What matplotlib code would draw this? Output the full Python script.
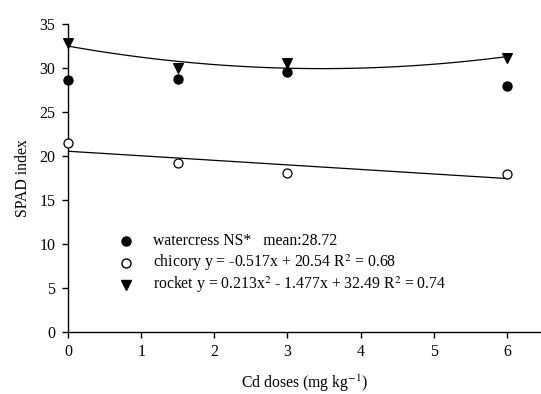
import numpy as np
import matplotlib
matplotlib.use("Agg")
import matplotlib.pyplot as plt

plt.rcParams['font.family'] = ['Liberation Serif', 'DejaVu Serif']
plt.rcParams['mathtext.fontset'] = 'stix'

# Cd doses (mg/kg)
doses = [0, 1.5, 3, 6]

# SPAD index readings
watercress = [28.6, 28.8, 29.6, 27.9]
chicory = [21.5, 19.2, 18.1, 17.9]
rocket = [32.8, 30.0, 30.6, 31.1]

# regression coefficients from the legend (highest power first)
chicory_fit = [-0.517, 20.54]
rocket_fit = [0.213, -1.477, 32.49]

legend_labels = [
    'watercress NS*   mean:28.72',
    'chicory y = -0.517x + 20.54 R$^2$ = 0.68',
    'rocket y = 0.213x$^2$ - 1.477x + 32.49 R$^2$ = 0.74',
]

fig = plt.figure(figsize=(5.41, 3.94), dpi=100)
ax = fig.add_axes([0.1257, 0.1574, 0.8743, 0.7817])

xs = np.linspace(0, 6, 100)
ax.plot(xs, np.polyval(chicory_fit, xs), color='black', lw=0.9)
ax.plot(xs, np.polyval(rocket_fit, xs), color='black', lw=0.9)

ax.scatter(doses, watercress, marker='o', s=42, color='black', zorder=3, clip_on=False)
ax.scatter(doses, chicory, marker='o', s=42, facecolor='white', edgecolor='black',
           linewidths=0.9, zorder=3, clip_on=False)
ax.scatter(doses, rocket, marker='v', s=48, color='black', zorder=3, clip_on=False)

ax.set_xlim(0, 6.465)
ax.set_ylim(0, 35)
ax.set_xticks(range(0, 7))
ax.set_yticks(range(0, 36, 5))
for side in ['top', 'right']:
    ax.spines[side].set_visible(False)
for side in ['left', 'bottom']:
    ax.spines[side].set_linewidth(1.0)
ax.tick_params(direction='out', length=4, width=1, labelsize=11.5, pad=5)

ax.set_xlabel('Cd doses (mg kg$^{-1}$)', fontsize=11.3, labelpad=9)
ax.set_ylabel('SPAD index', fontsize=11.3, labelpad=6)

# legend drawn by hand (markers + text, no frame)
styles = [
    dict(marker='o', color='black', markersize=6.5),
    dict(marker='o', markerfacecolor='white', markeredgecolor='black', markersize=6.5),
    dict(marker='v', color='black', markersize=7),
]
rows = [0.2955, 0.224, 0.1526]
for st, yy, lab in zip(styles, rows, legend_labels):
    ax.plot([0.1226], [yy], ls='none', transform=ax.transAxes, clip_on=False, **st)
    ax.text(0.1797, yy, lab, transform=ax.transAxes, fontsize=11.3, va='center', ha='left')

fig.savefig('out.png', dpi=100)
